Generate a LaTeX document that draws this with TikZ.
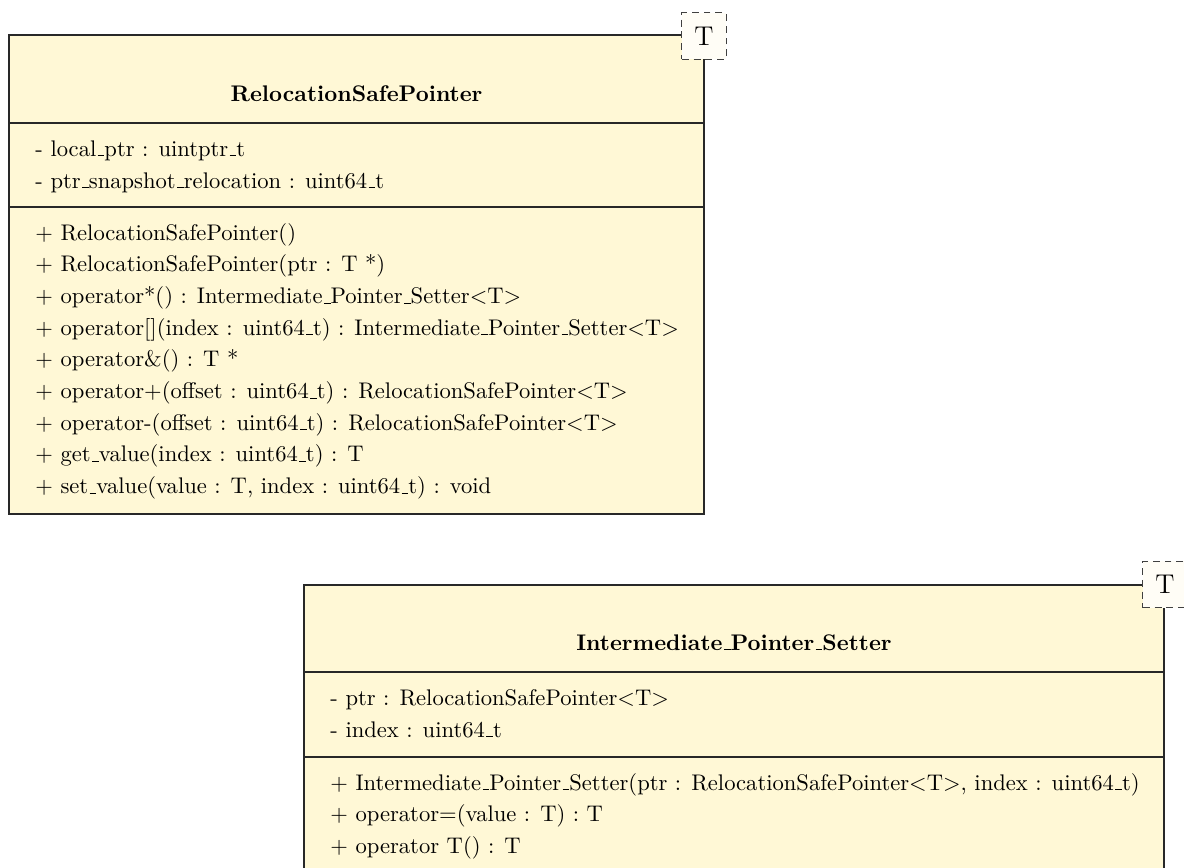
\documentclass[tikz,border=0pt]{standalone}
\usetikzlibrary{fit,shadows}

% underscore drawn as a short rule on the baseline
\newcommand{\usc}{\leavevmode\kern.06em\vbox{\hrule width .3em}}

\definecolor{classfill}{RGB}{255,248,214}
\definecolor{tmplfill}{RGB}{255,253,246}
\definecolor{classline}{RGB}{40,40,40}

\tikzset{
  classbox/.style={draw=classline, line width=0.55pt, fill=classfill, inner sep=0pt,
    drop shadow={shadow xshift=0.45pt, shadow yshift=-0.45pt, opacity=0.45, fill=black!60}},
  divider/.style={draw=classline, line width=0.5pt},
  tmplbox/.style={draw=black!75, dashed, dash pattern=on 3pt off 2.2pt, line width=0.45pt,
    fill=tmplfill, inner sep=0pt, minimum width=19.5pt, minimum height=20.4pt, font=\large},
  member/.style={anchor=base west, inner sep=0pt, font=\normalsize},
  classname/.style={anchor=base, inner sep=0pt, font=\normalsize\bfseries},
}

\begin{document}
\begin{tikzpicture}[x=0.4425pt, y=-0.4425pt]
\useasboundingbox (0,0) rectangle (1184,867);

% ---------------- RelocationSafePointer ----------------
\node[classbox, fit={(9,35) (704,514)}] (rsp) {};
\draw[divider] (rsp.west |- 0,123) -- (rsp.east |- 0,123);
\draw[divider] (rsp.west |- 0,207) -- (rsp.east |- 0,207);
\node[tmplbox] (rspT) at (704,36) {T};

\node[classname] (rspName) at (356.5,101) {RelocationSafePointer};

\node[member] (rspA1) at (35,156) {- local\usc ptr : uintptr\usc t};
\node[member] (rspA2) at (35,188) {- ptr\usc snapshot\usc relocation : uint64\usc t};

\node[member] (rspO1) at (35,240.0) {+ RelocationSafePointer()};
\node[member] (rspO2) at (35,271.7) {+ RelocationSafePointer(ptr : T *)};
\node[member] (rspO3) at (35,303.4) {+ operator*() : Intermediate\usc Pointer\usc Setter$<$T$>$};
\node[member] (rspO4) at (35,335.1) {+ operator[](index : uint64\usc t) : Intermediate\usc Pointer\usc Setter$<$T$>$};
\node[member] (rspO5) at (35,366.8) {+ operator\&() : T *};
\node[member] (rspO6) at (35,398.5) {+ operator+(offset : uint64\usc t) : RelocationSafePointer$<$T$>$};
\node[member] (rspO7) at (35,430.2) {+ operator-(offset : uint64\usc t) : RelocationSafePointer$<$T$>$};
\node[member] (rspO8) at (35,461.9) {+ get\usc value(index : uint64\usc t) : T};
\node[member] (rspO9) at (35,493.6) {+ set\usc value(value : T, index : uint64\usc t) : void};

% ---------------- Intermediate_Pointer_Setter ----------------
\node[classbox, fit={(304,585) (1164,873)}] (ips) {};
\draw[divider] (ips.west |- 0,672) -- (ips.east |- 0,672);
\draw[divider] (ips.west |- 0,757) -- (ips.east |- 0,757);
\node[tmplbox] (ipsT) at (1165,584.5) {T};

\node[classname] (ipsName) at (734,650) {Intermediate\usc Pointer\usc Setter};

\node[member] (ipsA1) at (330,705) {- ptr : RelocationSafePointer$<$T$>$};
\node[member] (ipsA2) at (330,737) {- index : uint64\usc t};

\node[member] (ipsO1) at (330,790) {+ Intermediate\usc Pointer\usc Setter(ptr : RelocationSafePointer$<$T$>$, index : uint64\usc t)};
\node[member] (ipsO2) at (330,821.7) {+ operator=(value : T) : T};
\node[member] (ipsO3) at (330,853.4) {+ operator T() : T};

\end{tikzpicture}
\end{document}
